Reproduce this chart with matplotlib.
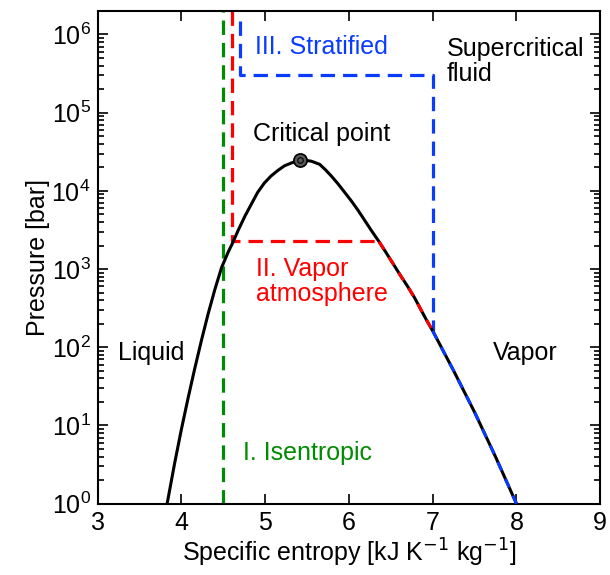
import numpy as np
import matplotlib
matplotlib.use('Agg')
import matplotlib.pyplot as plt

plt.rcParams['font.family'] = ['Liberation Sans', 'DejaVu Sans']
plt.rcParams['font.size'] = 18
plt.rcParams['axes.linewidth'] = 1.5

# saturation dome: entropy [kJ/K/kg] and log10 pressure [bar]
dome_s = [3.83, 3.92, 4.00, 4.08, 4.16, 4.24, 4.32, 4.40, 4.48, 4.56, 4.61, 4.68,
          4.76, 4.84, 4.91, 4.99, 5.07, 5.15, 5.23, 5.32, 5.41, 5.48, 5.55, 5.65,
          5.72, 5.79, 5.87, 5.95, 6.03, 6.11, 6.19, 6.27, 6.36, 6.45, 6.55, 6.62,
          6.70, 6.78, 6.85, 6.92, 7.00, 7.25, 7.50, 7.75, 8.00]
dome_logp = [0.00, 0.52, 0.95, 1.35, 1.73, 2.09, 2.43, 2.74, 3.02, 3.22, 3.33, 3.50,
             3.68, 3.84, 3.98, 4.10, 4.19, 4.26, 4.32, 4.36, 4.39, 4.39, 4.38, 4.34,
             4.27, 4.19, 4.09, 3.98, 3.87, 3.75, 3.62, 3.49, 3.35, 3.20, 3.03, 2.91,
             2.78, 2.64, 2.50, 2.36, 2.21, 1.70, 1.17, 0.60, 0.00]

crit_s, crit_p = 5.42, 2.5e4

# regime paths
iso_s = [4.5, 4.5]
iso_p = [1.0, 2e6]
vap_s = [4.6, 4.6, 6.36]
vap_p = [2e6, 10**3.36, 10**3.36]
vap_curve = (6.36, 7.00)
strat_s = [4.7, 4.7, 7.0, 7.0]
strat_p = [1.5e6, 3e5, 3e5, 10**2.21]
strat_curve = (7.00, 8.00)

blue = '#0a3cff'
red = '#ff0000'
green = '#008c00'

dome_s = np.array(dome_s)
dome_p = 10 ** np.array(dome_logp)

fig = plt.figure(figsize=(6.1, 5.75), dpi=100)
ax = fig.add_axes([0.160, 0.124, 0.824, 0.857])

ax.plot(dome_s, dome_p, color='k', lw=2.2, zorder=3, solid_joinstyle='round')
dash = (4.5, 2.5)
ax.plot(iso_s, iso_p, color=green, lw=2.3, dashes=dash, zorder=2)
ax.plot(vap_s, vap_p, color=red, lw=2.3, dashes=dash, zorder=2)
ax.plot(strat_s, strat_p, color=blue, lw=2.3, dashes=dash, zorder=2)

m = (dome_s >= vap_curve[0]) & (dome_s <= vap_curve[1])
ax.plot(dome_s[m], dome_p[m], color=red, lw=2.2, dashes=(3, 3), zorder=4)
m = (dome_s >= strat_curve[0]) & (dome_s <= strat_curve[1])
ax.plot(dome_s[m], dome_p[m], color=blue, lw=2.2, dashes=(3, 3), zorder=4)

ax.plot([crit_s], [crit_p], 'o', ms=9.5, mfc='0.35', mec='k', mew=1.2, zorder=5)
ax.plot([crit_s], [crit_p], 'o', ms=4, mfc='none', mec='k', mew=0.8, zorder=6)

ax.text(4.88, 7e5, 'III. Stratified', color=blue, va='center', ha='left')
ax.text(7.17, 4.5e5, 'Supercritical\nfluid', color='k', va='center', ha='left',
        linespacing=1.05)
ax.text(5.68, 5.3e4, 'Critical point', color='k', va='center', ha='center')
ax.text(4.89, 7.0e2, 'II. Vapor\natmosphere', color=red, va='center', ha='left',
        linespacing=1.05)
ax.text(3.24, 84, 'Liquid', color='k', va='center', ha='left')
ax.text(7.72, 84, 'Vapor', color='k', va='center', ha='left')
ax.text(4.73, 4.5, 'I. Isentropic', color=green, va='center', ha='left')

ax.set_yscale('log')
ax.set_xlim(3, 9)
ax.set_ylim(1, 2e6)
ax.set_xticks([3, 4, 5, 6, 7, 8, 9])
ax.set_yticks([1e0, 1e1, 1e2, 1e3, 1e4, 1e5, 1e6])
ax.tick_params(which='both', direction='in', top=True, right=True, width=1.2)
ax.tick_params(which='major', length=7, pad=5)
ax.tick_params(which='minor', length=4.5)
ax.set_xlabel('Specific entropy [kJ K$^{-1}$ kg$^{-1}$]', labelpad=1.5)
ax.set_ylabel('Pressure [bar]', labelpad=1)

fig.savefig('out.png', dpi=100)
